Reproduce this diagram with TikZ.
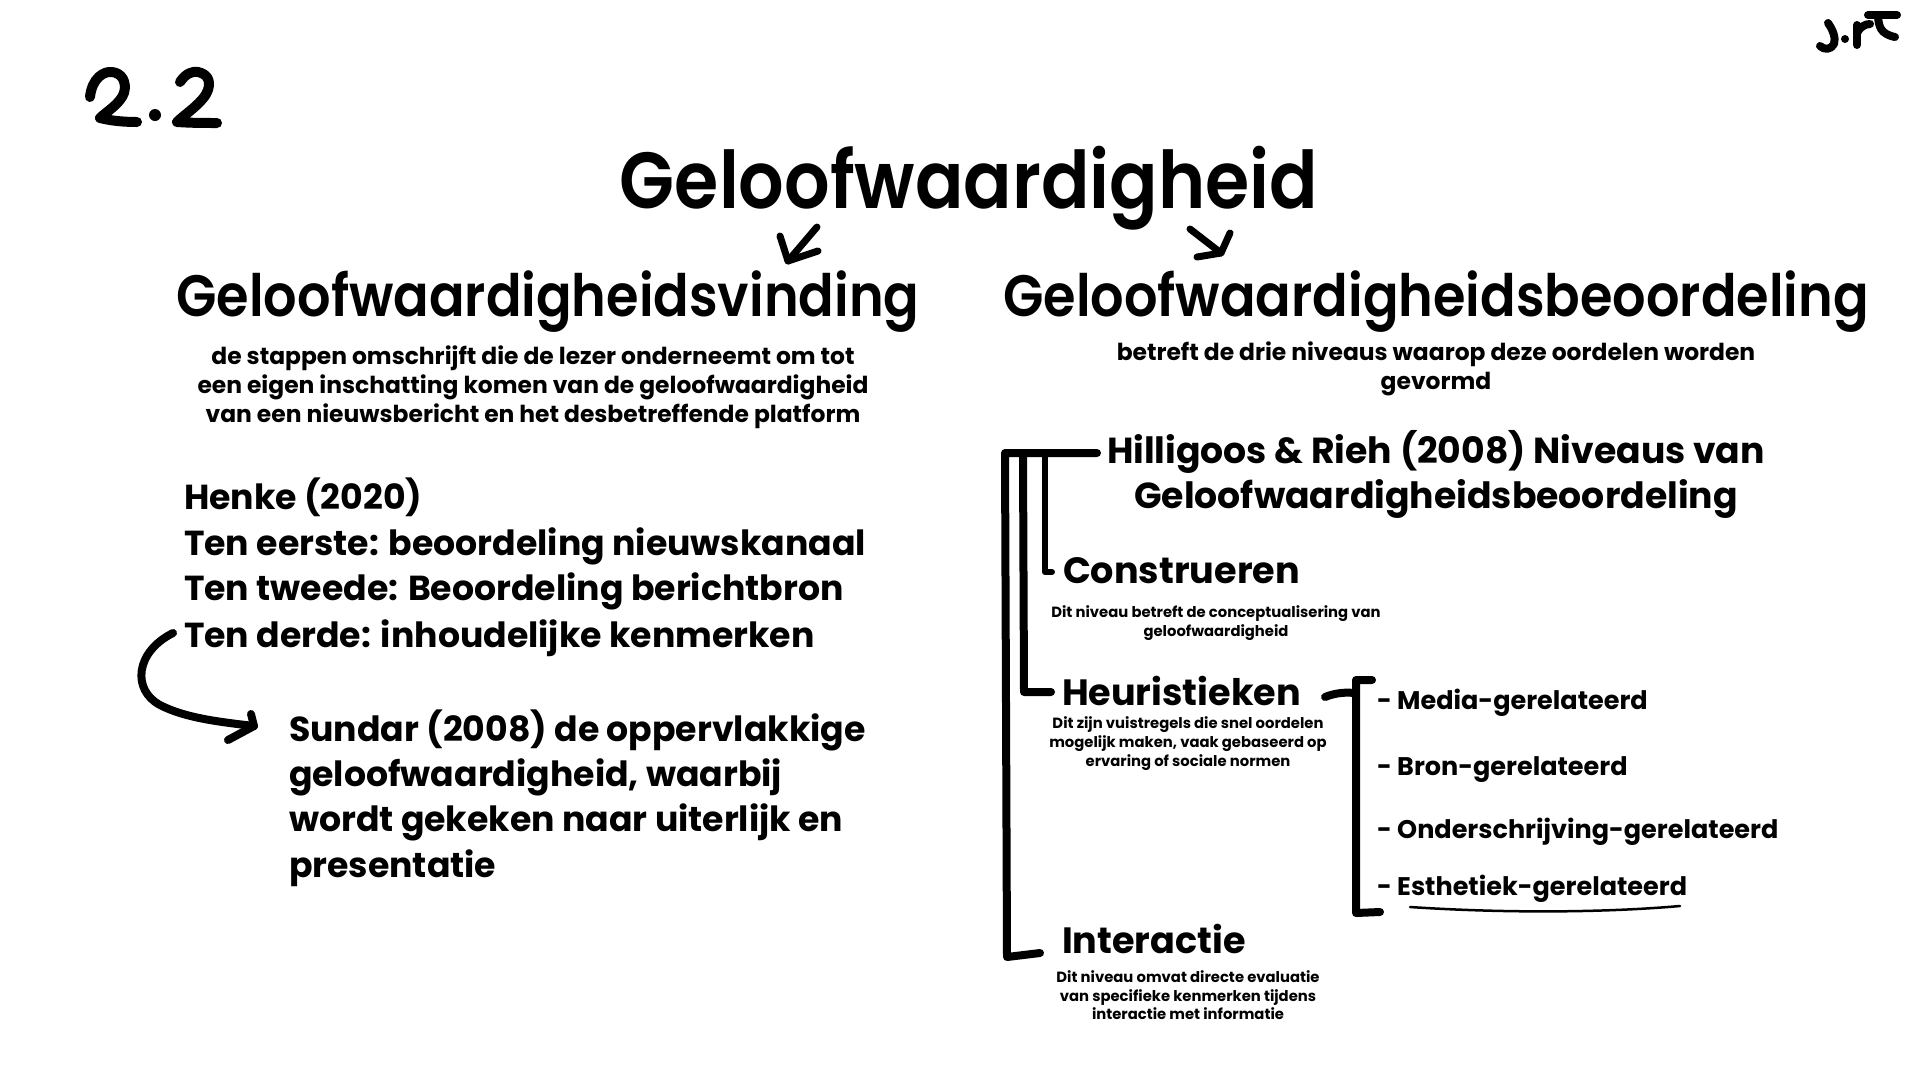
\documentclass[tikz,border=0pt]{standalone}
\usepackage{fontspec}
\newfontfamily\pfs{Poppins SemiBold}[FakeStretch=0.9]
\newfontfamily\pf{Poppins}
\newcommand\fsz[1]{\fontsize{#1}{#1}\selectfont}
\begin{document}
\begin{tikzpicture}[x=1pt,y=-1pt,
  txt/.style={inner sep=0pt, outer sep=0pt},
  ttl/.style={txt, anchor=base, font=\pfs\fsz{79.5}},
  hd/.style={txt, anchor=base, font=\pfs\fsz{58.4}},
  desc/.style={txt, anchor=base, font=\pf\bfseries\fsz{23.4}},
  mid/.style={txt, anchor=base west, font=\pf\bfseries\fsz{34.7}},
  lvl/.style={txt, anchor=base west, font=\pf\bfseries\fsz{36.6}},
  hil/.style={txt, anchor=base, font=\pf\bfseries\fsz{36.2}},
  small/.style={txt, anchor=base, font=\pf\bfseries\fsz{14.8}},
  item/.style={txt, anchor=base west, font=\pf\bfseries\fsz{25.5}},
  ink/.style={draw=black, line cap=round, line join=round},
  thick8/.style={ink, line width=8pt},
  thick6/.style={ink, line width=6pt}
]
\useasboundingbox[fill=white] (0,0) rectangle (1920,1080);

% handwritten 2.2
\draw[ink, line width=10pt] (90,97) .. controls (92,78) and (104,71) .. (112,72)
  .. controls (122,73) and (127,82) .. (124,93) .. controls (120,104) and (106,112) .. (100,118)
  .. controls (112,121) and (125,122) .. (137,122);
\fill (155,115) circle (6);
\draw[ink, line width=10pt] (180,82) .. controls (186,73) and (193,71) .. (198,72)
  .. controls (207,74) and (211,80) .. (208,90) .. controls (204,102) and (185,114) .. (177,122)
  .. controls (192,123) and (205,123) .. (217,123);

% handwritten J.rT
\draw[ink, line width=8pt] (1828,23) .. controls (1833,30) and (1836,38) .. (1834,44)
  .. controls (1831,50) and (1824,50) .. (1820,46);
\fill (1845,39) circle (4);
\draw[ink, line width=8pt] (1857,25) -- (1857,45);
\draw[ink, line width=8pt] (1857,33) .. controls (1860,27) and (1865,24) .. (1870,24);
\draw[ink, line width=8pt] (1868,15) -- (1897,15);
\draw[ink, line width=8pt] (1878,17) .. controls (1879,26) and (1880,34) .. (1895,37);

% titles
\node[ttl] (title) at (969,208) {Geloofwaardigheid};
\node[hd] (hl) at (548,316) {Geloofwaardigheidsvinding};
\node[hd] (hr) at (1436,316) {Geloofwaardigheidsbeoordeling};

% top arrows
\coordinate (la1) at (817,227); \coordinate (la2) at (788,261);
\draw[ink, line width=7pt] (la1) -- (la2);
\draw[ink, line width=7pt] (780,236) -- (la2) -- (818,251);
\coordinate (ra1) at (1190,229); \coordinate (ra2) at (1221,253);
\draw[ink, line width=7pt] (ra1) -- (ra2);
\draw[ink, line width=7pt] (1230,233) -- (ra2) -- (1197,257);

% left description
\node[desc] (ld1) at (533,364) {de stappen omschrijft die de lezer onderneemt om tot};
\node[desc] (ld2) at (533,393) {een eigen inschatting komen van de geloofwaardigheid};
\node[desc] (ld3) at (533,422) {van een nieuwsbericht en het desbetreffende platform};

% right description
\node[desc] (rd1) at (1436,360) {betreft de drie niveaus waarop deze oordelen worden};
\node[desc] (rd2) at (1436,389) {gevormd};

% Henke block
\node[mid] (h1) at (184,509) {Henke (2020)};
\node[mid] (h2) at (184,555) {Ten eerste: beoordeling nieuwskanaal};
\node[mid] (h3) at (184,600) {Ten tweede: Beoordeling berichtbron};
\node[mid] (h4) at (184,647) {Ten derde: inhoudelijke kenmerken};

% Sundar block
\node[mid] (s1) at (289,741) {Sundar (2008) de oppervlakkige};
\node[mid] (s2) at (289,786) {geloofwaardigheid, waarbij};
\node[mid] (s3) at (289,831) {wordt gekeken naar uiterlijk en};
\node[mid] (s4) at (289,877) {presentatie};

% curved arrow from Henke to Sundar
\coordinate (ca1) at (173,633);
\coordinate (ca2) at (254,726);
\draw[thick8] (ca1) .. controls (135,652) and (132,690) .. (160,705)
  .. controls (185,718) and (220,722) .. (ca2);
\draw[thick8] (251,714) -- (ca2) -- (228,740);

% Hilligoos heading
\node[hil] (hil1) at (1436,463) {Hilligoos \& Rieh (2008) Niveaus van};
\node[hil] (hil2) at (1436,508) {Geloofwaardigheidsbeoordeling};

% levels
\node[lvl] (con) at (1063,583) {Construeren};
\node[small] (cd1) at (1216,617) {Dit niveau betreft de conceptualisering van};
\node[small] (cd2) at (1216,636) {geloofwaardigheid};

\node[lvl] (heu) at (1062,705) {Heuristieken};
\node[small] (hd1) at (1188,728) {Dit zijn vuistregels die snel oordelen};
\node[small] (hd2) at (1188,747) {mogelijk maken, vaak gebaseerd op};
\node[small] (hd3) at (1188,766) {ervaring of sociale normen};

\node[lvl] (int) at (1062,953) {Interactie};
\node[small] (id1) at (1188,982) {Dit niveau omvat directe evaluatie};
\node[small] (id2) at (1188,1001) {van specifieke kenmerken tijdens};
\node[small] (id3) at (1188,1019) {interactie met informatie};

% left brackets
\coordinate (bt) at (1097,453);
\draw[thick8] (bt) -- (1005,453) -- (1007,957) -- (1040,953);
\draw[thick8] (1023,456) -- (1024,692) -- (1051,692);
\draw[thick6] (1045,456) -- (1045,572) -- (1052,572);

% right bracket
\draw[thick8] (1325,697) .. controls (1335,693) and (1345,692) .. (1354,693);
\draw[thick8] (1372,680) -- (1356,680) -- (1356,913) -- (1380,912);

% items
\node[item] (i1) at (1377,709) {- Media-gerelateerd};
\node[item] (i2) at (1377,775) {- Bron-gerelateerd};
\node[item] (i3) at (1377,838) {- Onderschrijving-gerelateerd};
\node[item] (i4) at (1377,895) {- Esthetiek-gerelateerd};

% wavy underline
\draw[ink, line width=2.5pt] (1410,907) .. controls (1500,913) and (1600,913) .. (1680,906);
\end{tikzpicture}
\end{document}
